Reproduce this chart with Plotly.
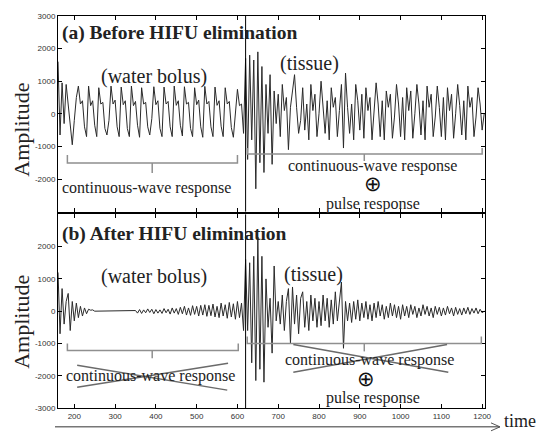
import plotly.graph_objects as go

# ---------------- data ----------------
T_START = 160
T_STEP = 5

# (a) before HIFU elimination, samples every 5 time units starting at 160
before_water = [
    1600, -650, 950, -300, 900, 300, -500, -950, -200, 500, 850, 300, 400, -400, -700,
    850, 250, 400, -350, -700,
    800, 300, 350, -450, -650, -200,
    850, 300, 420, -400, -700,
    820, 280, 400, -450, -700,
    850, 250, 380, -350, -720,
    800, 300, 350, -400, -650, -150,
    830, 280, 400, -450, -700,
    820, 300, 380, -400, -700,
    850, 260, 400, -350, -680,
    830, 300, 350, -450, -700,
    800, 280, 420, -400, -720,
    840, 300, 380, -400, -700,
    820, 260, 400, -380, -700,
    800, 300, 380, -420, -720,
    0, 750, 250, 300, -600,
]
before_tissue = [
    1700, -1400, 1800, -800, 1650, -2300, 1900, -1500, 1450, -1800,
    900, -600, 1200, -1550, 700, -300, 600, -700, 900, 100,
    500, -1100, 200, 700, 1200, 200, -600, -200, 800, -500,
    300, -800, 900, 100, 600, -700, 0, 1000, 300, -600,
    400, -800, 800, 200, 500, -700, 100, 900, -1050, 1250,
    200, -600, 300, -800, 900, 400, -500, 600, -750, 800,
    100, 500, -800, 200, 950, 300, -700, 400, -800, 700,
    200, 600, -750, -100, 900, 300, -700, 500, -800, 800,
    100, 700, -750, 0, 900, 300, -650, 400, -800, 850,
    200, 600, -700, -100, 850, 200, -700, 500, -800, 800,
    100, 600, -750, 0, 900, 250, -650, 400, -800, 850,
    200, 500, -700, -100, 800, 300, -500, 0,
]

# (b) after HIFU elimination
after_water = [
    1200, -700, 700, -400, 300, 550, -600, 300, -300, 250,
    -200, 150, -150, 100, -80, 60, 30, 40, 0, 0,
    0, 0, 0, 0, 0, 0, 0, 0, 0, 0,
    0, 0, 0, 0, 0, 0, 0, 0, 20, -60,
    50, -70, 40, -50, 70, -40, 60, -80, 50, -60,
    40, -70, 80, -50, 60, -90, 100, -60, 80, -100,
    120, -80, 150, -120, 100, -130, 170, -100, 150, -150,
    180, -120, 200, -160, 180, -140, 220, -180, 150, -200,
    250, -150, 200, -220, 270, -180, 230, -250, 300, -200,
    250, -600,
]
after_tissue = [
    1600, -600, 1500, -1600, 1700, -2150, 2300, -1800, 1700, -2200,
    1000, -500, 400, -1300, 1400, -300, 300, -400, 500, -600,
    300, 700, -1000, 750, -400, 500, -700, 400, 600, -500,
    300, -600, 500, -300, 400, -500, 300, -450, 500, -300,
    400, -500, 350, -400, 600, -300, 350, 900, -1150, 300,
    -300, 250, -350, 300, -250, 350, -300, 250, -200, 300,
    -250, 200, -300, 250, -200, 300, -150, 200, -250, 150,
    -200, 250, -150, 200, -200, 150, -250, 200, -150, 150,
    -200, 200, -100, 150, -200, 100, -150, 200, -100, 150,
    -150, 100, -200, 150, -100, 120, -150, 100, -120, 150,
    -80, 100, -150, 120, -100, 80, -120, 100, -80, 120,
    -100, 80, -60, 100, -80, 60, -50, 0,
]

before_vals = before_water + before_tissue
after_vals = after_water + after_tissue
t_before = [T_START + T_STEP * i for i in range(len(before_vals))]
t_after = [T_START + T_STEP * i for i in range(len(after_vals))]

x_ticks = [200, 300, 400, 500, 600, 700, 800, 900, 1000, 1100, 1200]
y_ticks = [-3000, -2000, -1000, 0, 1000, 2000, 3000]
boundary_time = 620

# ---------------- figure ----------------
SERIF = "Liberation Serif, Times New Roman, serif"
SANS = "Liberation Sans, Arial, sans-serif"
LINE = "#2a2a2a"
BRACE = "#8f8f8f"

fig = go.Figure()
fig.add_trace(go.Scatter(x=t_before, y=before_vals, mode="lines",
                         line=dict(color=LINE, width=1), xaxis="x", yaxis="y",
                         showlegend=False, hoverinfo="skip"))
fig.add_trace(go.Scatter(x=t_after, y=after_vals, mode="lines",
                         line=dict(color=LINE, width=1), xaxis="x2", yaxis="y2",
                         showlegend=False, hoverinfo="skip"))

axis_common = dict(showline=True, linecolor="black", linewidth=1, mirror="ticks",
                   ticks="inside", ticklen=4, tickcolor="black", showgrid=False,
                   zeroline=False, tickfont=dict(family=SANS, size=8, color="#333"))

fig.update_layout(
    width=539, height=433, autosize=False,
    margin=dict(l=58, r=54, t=15, b=23),
    paper_bgcolor="white", plot_bgcolor="white",
    xaxis=dict(domain=[0, 1], anchor="y", range=[160, 1207], tickvals=x_ticks,
               showticklabels=False, **axis_common),
    yaxis=dict(domain=[0.501, 1], anchor="x", range=[-3000, 3000], tickvals=y_ticks,
               ticktext=["", "-2000", "-1000", "0", "1000", "2000", "3000"], **axis_common),
    xaxis2=dict(domain=[0, 1], anchor="y2", range=[160, 1207], tickvals=x_ticks,
                **axis_common),
    yaxis2=dict(domain=[0, 0.494], anchor="x2", range=[-3000, 3000], tickvals=y_ticks,
                ticktext=["-3000", "-2000", "-1000", "0", "1000", "2000", ""], **axis_common),
)

shapes = []
# boundary lines between water bolus and tissue
for xr, yr in (("x", "y"), ("x2", "y2")):
    shapes.append(dict(type="line", xref=xr, yref=yr + " domain", x0=boundary_time,
                       x1=boundary_time, y0=0, y1=1, line=dict(color="black", width=1)))

def brace(xr, yr, x0, x1, y_end, y_main, xm, y_tip):
    shapes.append(dict(type="path", xref=xr, yref=yr,
                       path=f"M {x0},{y_end} L {x0},{y_main} L {x1},{y_main} L {x1},{y_end}",
                       line=dict(color=BRACE, width=1.5)))
    shapes.append(dict(type="line", xref=xr, yref=yr, x0=xm, x1=xm, y0=y_main, y1=y_tip,
                       line=dict(color=BRACE, width=1.5)))

brace("x", "y", 183, 600, -1264, -1508, 391, -1812)
brace("x", "y", 624, 1200, -1051, -1234, 911, -1447)
brace("x2", "y2", 183, 602, -1000, -1215, 391, -1462)
brace("x2", "y2", 624, 1198, -785, -1000, 911, -1246)

# crossing-out lines
for (xa, ya, xb, yb) in ((207, -1677, 575, -2446), (207, -2354, 577, -1615),
                         (737, -1030, 1117, -1892), (737, -1892, 1114, -1030)):
    shapes.append(dict(type="line", xref="x2", yref="y2", x0=xa, y0=ya, x1=xb, y1=yb,
                       line=dict(color="#6a6a6a", width=1.5)))

# time arrow under the chart
ay = (410 - 429) / 395
x_tail = (55 - 58) / 427
x_tip = (500 - 58) / 427
shapes.append(dict(type="line", xref="paper", yref="paper", x0=x_tail, x1=x_tip, y0=ay, y1=ay,
                   line=dict(color="#777", width=1.5)))
for s in (1, -1):
    shapes.append(dict(type="line", xref="paper", yref="paper", x0=x_tip - 9 / 427, x1=x_tip,
                       y0=ay + s * 4 / 395, y1=ay, line=dict(color="#555", width=1)))

fig.update_layout(shapes=shapes)

ann = []
def text(x, y, s, size, xr="x", yr="y", bold=False, xanchor="center", angle=0,
         color="#222", yanchor="middle"):
    ann.append(dict(x=x, y=y, xref=xr, yref=yr, text=f"<b>{s}</b>" if bold else s,
                    showarrow=False, xanchor=xanchor, yanchor=yanchor, textangle=angle,
                    font=dict(family=SERIF, size=size, color=color)))

text(164, 2482, "(a) Before HIFU elimination", 19.5, bold=True, xanchor="left")
text(164, 2385, "(b) After HIFU elimination", 19.5, "x2", "y2", bold=True, xanchor="left")
text(396, 1140, "(water bolus)", 20)
text(776, 1540, "(tissue)", 20)
text(396, 1060, "(water bolus)", 20, "x2", "y2")
text(786, 1150, "(tissue)", 20, "x2", "y2")
text(930, -1600, "continuous-wave response", 16)
text(376, -2269, "continuous-wave response", 16)
text(933, -2150, "⊕", 21, color="#111")
text(933, -2757, "pulse response", 16)
text(386, -2015, "continuous-wave response", 16, "x2", "y2")
text(923, -1500, "continuous-wave response", 16, "x2", "y2")
text(915, -2100, "⊕", 21, "x2", "y2", color="#111")
text(933, -2692, "pulse response", 16, "x2", "y2")
text(-0.0843, 0.710, "Amplitude", 22, "paper", "paper", angle=-90)
text(-0.0843, 0.220, "Amplitude", 22, "paper", "paper", angle=-90)
text((502 - 58) / 427, (410 - 435) / 395, "time", 18, "paper", "paper", xanchor="left",
     yanchor="bottom")
fig.update_layout(annotations=ann)

fig.write_html("out.html", config={"displayModeBar": False},
               post_script="document.body.style.margin='0';")
